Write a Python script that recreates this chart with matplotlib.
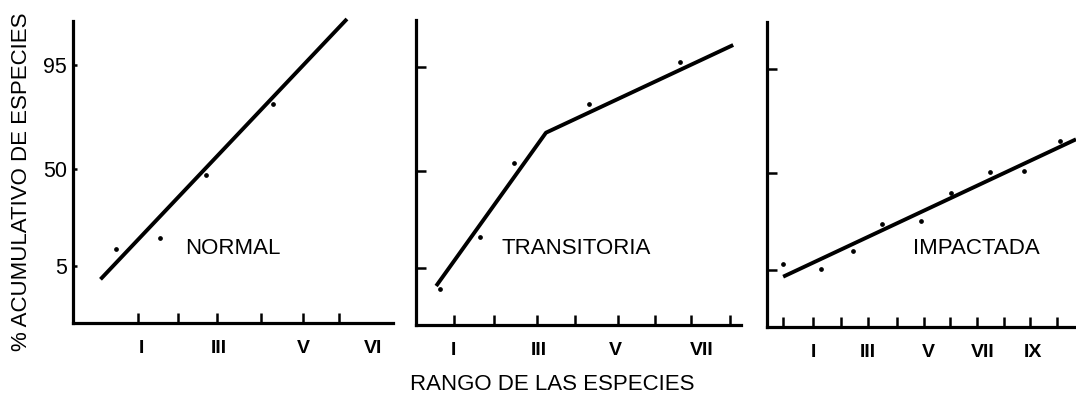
import matplotlib
matplotlib.use("Agg")
import matplotlib.pyplot as plt

plt.rcParams['font.family'] = ['Liberation Sans', 'DejaVu Sans']

# y positions are in "probability paper" units above the x axis
y_tick_pos = [0.57, 1.54, 2.58]
y_tick_labels = ['5', '50', '95']

# --- NORMAL ---
normal_pts_x = [0.43, 1.56, 2.71, 4.40]
normal_pts_y = [0.734, 0.844, 1.477, 2.187]
normal_line_x = [0.05, 6.26]
normal_line_y = [0.434, 3.037]
normal_ticks = [1, 2.0, 2.98, 4.09, 5.14, 6.05, 6.92]
normal_lab_pos = [1.08, 3.02, 5.16, 6.92]
normal_labels = ['I', 'III', 'V', 'VI']

# --- TRANSITORIA ---
trans_pts_x = [0.64, 1.65, 2.51, 4.42, 6.72]
trans_pts_y = [0.363, 0.877, 1.623, 2.207, 2.633]
trans_line_x = [0.54, 3.32, 8.06]
trans_line_y = [0.39, 1.923, 2.80]
trans_ticks = [1, 2.0, 3.09, 4.05, 5.15, 6.08, 6.98, 7.99]
trans_lab_pos = [0.99, 3.13, 5.07, 7.26]
trans_labels = ['I', 'III', 'V', 'VII']

# --- IMPACTADA ---
imp_pts_x = [0.02, 1.41, 2.58, 3.64, 5.04, 6.15, 7.57, 8.81, 10.12]
imp_pts_y = [0.63, 0.58, 0.763, 1.03, 1.063, 1.337, 1.553, 1.557, 1.86]
imp_line_x = [0.02, 10.7]
imp_line_y = [0.503, 1.877]
imp_ticks = [0, 1.12, 2.12, 3.12, 4.16, 5.17, 6.12, 7.09, 8.09, 9.04, 10.0]
imp_lab_pos = [1.14, 3.11, 5.30, 7.31, 9.14]
imp_labels = ['I', 'III', 'V', 'VII', 'IX']

W, H = 1076, 398
fig = plt.figure(figsize=(W / 100, H / 100), dpi=100)


def make_axes(left, right, top, bottom):
    # pixel box -> figure fraction
    return fig.add_axes([left / W, (H - bottom) / H, (right - left) / W, (bottom - top) / H])


panels = [
    (make_axes(72.7, 393, 20.7, 322.7), (-0.65, 7.42), 3.02,
     normal_pts_x, normal_pts_y, normal_line_x, normal_line_y,
     normal_ticks, normal_lab_pos, normal_labels, 'NORMAL', (3.38, 0.744), True),
    (make_axes(416, 740.7, 20, 325), (0.03, 8.25), 3.05,
     trans_pts_x, trans_pts_y, trans_line_x, trans_line_y,
     trans_ticks, trans_lab_pos, trans_labels, 'TRANSITORIA', (4.08, 0.767), False),
    (make_axes(766.7, 1076, 21.7, 327), (-0.58, 10.7), 3.053,
     imp_pts_x, imp_pts_y, imp_line_x, imp_line_y,
     imp_ticks, imp_lab_pos, imp_labels, 'IMPACTADA', (7.05, 0.787), False),
]

for (ax, xlim, ytop, px, py, lx, ly, ticks, lab_pos, labs, name, name_xy, first) in panels:
    ax.plot(lx, ly, color='black', lw=2.8, solid_capstyle='butt', clip_on=False)
    ax.plot(px, py, 'o', color='black', ms=2.4, clip_on=False)
    ax.set_xlim(*xlim)
    ax.set_ylim(0, ytop)
    for s in ['top', 'right']:
        ax.spines[s].set_visible(False)
    for s in ['left', 'bottom']:
        ax.spines[s].set_linewidth(2.3)

    # tick marks (minor) and roman labels (major, no marks)
    ax.set_xticks(ticks, minor=True)
    ax.set_xticks(lab_pos, labs)
    ax.tick_params(axis='x', which='minor', direction='in', length=7.2, width=1.8)
    ax.tick_params(axis='x', which='major', length=0, pad=12.5)
    for t in ax.get_xticklabels():
        t.set_fontweight('bold')
        t.set_fontsize(14)

    ax.set_yticks(y_tick_pos)
    if first:
        ax.set_yticklabels(y_tick_labels, fontsize=15.5)
        ax.tick_params(axis='y', direction='in', length=3, width=1.8, pad=4)
    else:
        ax.set_yticklabels([])
        ax.tick_params(axis='y', direction='in', length=7.2, width=1.8)

    ax.text(name_xy[0], name_xy[1], name, fontsize=16, ha='center', va='center')

fig.text(22 / W, (H - 181.5) / H, '% ACUMULATIVO DE ESPECIES', rotation=90,
         fontsize=16, ha='center', va='center')
fig.text(552.5 / W, (H - 385) / H, 'RANGO DE LAS ESPECIES',
         fontsize=16, ha='center', va='center')

fig.savefig('out.png', dpi=100)
